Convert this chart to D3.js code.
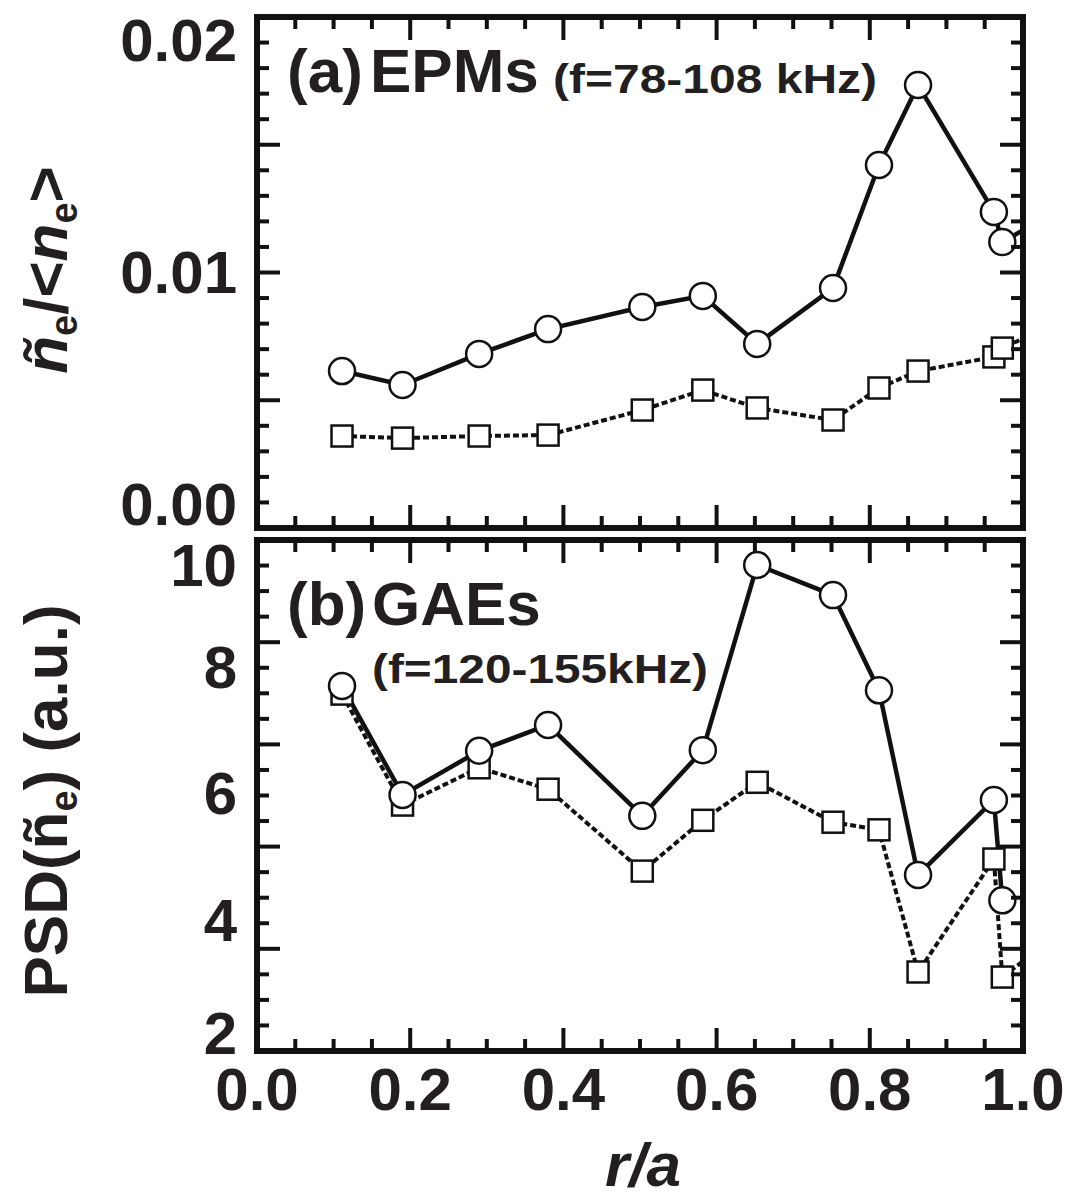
<!DOCTYPE html>
<html>
<head>
<meta charset="utf-8">
<script src="https://cdn.jsdelivr.net/npm/d3@7"></script>
<style>
  body { margin: 0; background: white; }
  svg text { font-family: "Liberation Sans", Arial, sans-serif; font-weight: bold; fill: #231f20; }
</style>
</head>
<body>
<svg width="1075" height="1202"></svg>
<script>
// radial positions (last one sits just outside the frame and gets clipped)
let r_a = [0.111, 0.190, 0.290, 0.380, 0.503, 0.582, 0.653, 0.752, 0.812, 0.863, 0.962, 0.973, 1.03];

// (a) EPMs, f = 78-108 kHz
let epm_circle = [0.00573, 0.00513, 0.00647, 0.00754, 0.00849, 0.00897, 0.00690, 0.00931, 0.01461, 0.01806, 0.01259, 0.01129, 0.01237];
let epm_square = [0.00293, 0.00284, 0.00293, 0.00297, 0.00405, 0.00491, 0.00414, 0.00362, 0.00500, 0.00573, 0.00634, 0.00672, 0.00759];

// (b) GAEs, f = 120-155 kHz
let gae_circle = [7.70, 5.97, 6.67, 7.08, 5.64, 6.68, 10.0, 9.41, 7.63, 4.71, 5.89, 4.31];
let gae_square = [7.57, 5.81, 6.40, 6.06, 4.77, 5.57, 6.17, 5.54, 5.42, 3.08, 4.96, 2.99, 3.58];

let x_ticks = [0, 0.2, 0.4, 0.6, 0.8, 1.0];
let epm_ticks = [0, 0.01, 0.02];
let gae_ticks = [2, 4, 6, 8, 10];

let svg = d3.select("svg");
let ink = "#111";
let left = 257, right = 1023;

let x = d3.scaleLinear().domain([0, 1]).range([left, right]);
let y_a = d3.scaleLinear().domain([0, 0.02]).range([504, 40]);
// the printed tick labels are not evenly spaced, so follow them piece by piece
let y_b = d3.scaleLinear().domain(gae_ticks).range([1033, 920, 793, 667, 565]);

function drawPanel(id, y, top, bottom, majorTest, circles, squares, ticks, fmt) {

    svg.append("clipPath")
        .attr("id", id)
        .append("rect")
        .attr("x", left)
        .attr("y", top)
        .attr("width", right - left)
        .attr("height", bottom - top);

    let g = svg.append("g").attr("clip-path", "url(#" + id + ")");

    let line = d3.line()
        .x(d => x(d[0]))
        .y(d => y(d[1]));

    let circle_pts = circles.map((v, i) => [r_a[i], v]);
    let square_pts = squares.map((v, i) => [r_a[i], v]);

    g.append("path")
        .datum(square_pts)
        .attr("d", line)
        .attr("fill", "none")
        .attr("stroke", ink)
        .attr("stroke-width", 4)
        .attr("stroke-dasharray", "6,3");

    g.append("path")
        .datum(circle_pts)
        .attr("d", line)
        .attr("fill", "none")
        .attr("stroke", ink)
        .attr("stroke-width", 4.5);

    g.selectAll(".sq")
        .data(square_pts)
        .enter()
        .append("rect")
        .attr("x", d => x(d[0]) - 10.5)
        .attr("y", d => y(d[1]) - 10.5)
        .attr("width", 21)
        .attr("height", 21)
        .attr("fill", "white")
        .attr("stroke", ink)
        .attr("stroke-width", 2.5);

    g.selectAll(".ci")
        .data(circle_pts)
        .enter()
        .append("circle")
        .attr("cx", d => x(d[0]))
        .attr("cy", d => y(d[1]))
        .attr("r", 13)
        .attr("fill", "white")
        .attr("stroke", ink)
        .attr("stroke-width", 2.5);

    // ticks on all four sides, pointing inward
    let xt = d3.range(1, 20).map(i => i * 0.05);
    xt.forEach(v => {
        let len = (Math.round(v * 100) % 20 === 0) ? 23 : 12;
        svg.append("line")
            .attr("x1", x(v)).attr("x2", x(v))
            .attr("y1", top).attr("y2", top + len)
            .attr("stroke", ink).attr("stroke-width", 4);
        svg.append("line")
            .attr("x1", x(v)).attr("x2", x(v))
            .attr("y1", bottom).attr("y2", bottom - len)
            .attr("stroke", ink).attr("stroke-width", 4);
    });

    let t = d3.scaleLinear().domain([0, 20]).range([bottom, top]);
    d3.range(1, 20).forEach(i => {
        let len = majorTest(i) ? 23 : 12;
        svg.append("line")
            .attr("x1", left).attr("x2", left + len)
            .attr("y1", t(i)).attr("y2", t(i))
            .attr("stroke", ink).attr("stroke-width", 4);
        svg.append("line")
            .attr("x1", right).attr("x2", right - len)
            .attr("y1", t(i)).attr("y2", t(i))
            .attr("stroke", ink).attr("stroke-width", 4);
    });

    svg.append("rect")
        .attr("x", left)
        .attr("y", top)
        .attr("width", right - left)
        .attr("height", bottom - top)
        .attr("fill", "none")
        .attr("stroke", ink)
        .attr("stroke-width", 6);

    svg.selectAll(".lab-" + id)
        .data(ticks)
        .enter()
        .append("text")
        .attr("x", 237)
        .attr("y", d => y(d) + 21)
        .attr("text-anchor", "end")
        .attr("font-size", "60px")
        .text(fmt);
}

drawPanel("pa", y_a, 17, 528, i => i % 5 === 0, epm_circle, epm_square, epm_ticks, d3.format(".2f"));
drawPanel("pb", y_b, 540, 1051, i => (20 - i) % 4 === 0, gae_circle, gae_square, gae_ticks, d3.format("d"));

// x tick labels
svg.selectAll(".xl")
    .data(x_ticks)
    .enter()
    .append("text")
    .attr("x", d => x(d))
    .attr("y", 1110)
    .attr("text-anchor", "middle")
    .attr("font-size", "60px")
    .text(d3.format(".1f"));

svg.append("text")
    .attr("x", 643)
    .attr("y", 1186)
    .attr("text-anchor", "middle")
    .attr("font-size", "62px")
    .style("font-style", "italic")
    .text("r/a");

// panel annotations
svg.append("text").attr("x", 287).attr("y", 92).attr("font-size", "62px").text("(a)");
svg.append("text").attr("x", 370).attr("y", 92).attr("font-size", "62px").text("EPMs");
svg.append("text").attr("x", 553).attr("y", 93).attr("font-size", "40px")
    .attr("textLength", 324).attr("lengthAdjust", "spacingAndGlyphs")
    .text("(f=78-108 kHz)");

svg.append("text").attr("x", 287).attr("y", 625).attr("font-size", "62px").text("(b)");
svg.append("text").attr("x", 372).attr("y", 625).attr("font-size", "62px").text("GAEs");
svg.append("text").attr("x", 372).attr("y", 683).attr("font-size", "40px")
    .attr("textLength", 336).attr("lengthAdjust", "spacingAndGlyphs")
    .text("(f=120-155kHz)");

// y titles
let ta = svg.append("text")
    .attr("transform", "translate(67,270) rotate(-90)")
    .attr("text-anchor", "middle")
    .attr("font-size", "62px");
ta.append("tspan").style("font-style", "italic").text("ñ");
ta.append("tspan").attr("font-size", "38px").attr("dy", 10).text("e");
ta.append("tspan").attr("dy", -10).text("/<");
ta.append("tspan").style("font-style", "italic").text("n");
ta.append("tspan").attr("font-size", "38px").attr("dy", 10).text("e");
ta.append("tspan").attr("dy", -10).text(">");

let tb = svg.append("text")
    .attr("transform", "translate(67,801) rotate(-90)")
    .attr("text-anchor", "middle")
    .attr("font-size", "62px");
tb.append("tspan").text("PSD(ñ");
tb.append("tspan").attr("font-size", "38px").attr("dy", 10).text("e");
tb.append("tspan").attr("dy", -10).text(") (a.u.)");
</script>
</body>
</html>
